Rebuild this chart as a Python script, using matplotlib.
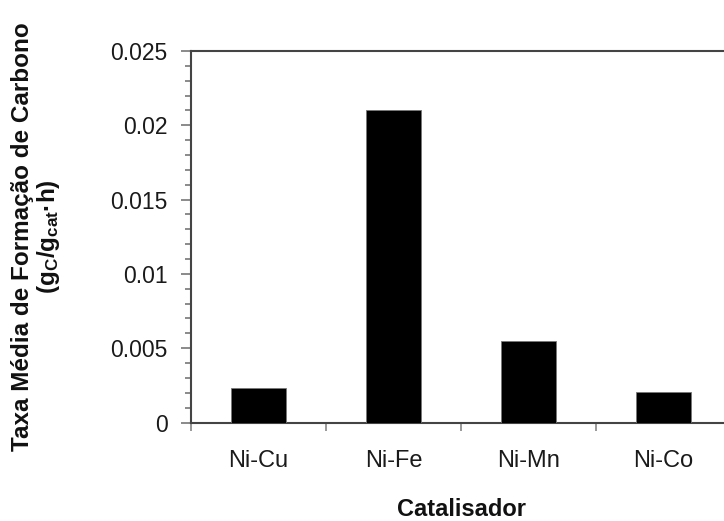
import matplotlib
matplotlib.use("Agg")
import matplotlib.pyplot as plt
from matplotlib.ticker import MultipleLocator, FixedLocator

categories = ["Ni-Cu", "Ni-Fe", "Ni-Mn", "Ni-Co"]
values = [0.0023, 0.021, 0.0055, 0.00205]
yticks = [0, 0.005, 0.01, 0.015, 0.02, 0.025]
ytick_labels = ["0", "0.005", "0.01", "0.015", "0.02", "0.025"]

plt.rcParams['font.family'] = ['Liberation Sans', 'DejaVu Sans']
plt.rcParams['mathtext.fontset'] = 'custom'
plt.rcParams['mathtext.rm'] = 'Liberation Sans:bold'
plt.rcParams['mathtext.default'] = 'rm'

W, H = 724, 521
fig = plt.figure(figsize=(W / 100, H / 100), dpi=100)
left, right, bottom, top = 191, 731, 422.5, 51
ax = fig.add_axes([left / W, 1 - bottom / H, (right - left) / W, (bottom - top) / H])

x = list(range(len(categories)))
ax.bar(x, values, width=0.41, color='black', edgecolor='#777777', linewidth=0.6, zorder=3)

ax.set_xlim(-0.5, len(categories) - 0.5)
ax.set_ylim(0, 0.025)

spine_col = '#444444'
for s in ['left', 'bottom', 'top']:
    ax.spines[s].set_color(spine_col)
    ax.spines[s].set_linewidth(1.5)
ax.spines['right'].set_visible(False)

ax.set_yticks(yticks)
ax.set_yticklabels(ytick_labels)
ax.yaxis.set_minor_locator(MultipleLocator(0.001))
ax.tick_params(axis='y', which='major', length=7, width=1.2, color='#777777',
               labelsize=16.5, labelcolor='#1a1a1a', pad=10)
ax.tick_params(axis='y', which='minor', length=4.5, width=1.2, color='#777777')

boundaries = [i - 0.5 for i in range(len(categories) + 1)]
ax.xaxis.set_major_locator(FixedLocator(boundaries))
ax.xaxis.set_minor_locator(FixedLocator(x))
ax.set_xticklabels([''] * len(boundaries))
ax.set_xticklabels(categories, minor=True)
ax.tick_params(axis='x', which='major', length=6, width=1.2, color='#888888')
ax.tick_params(axis='x', which='minor', length=0, labelsize=17, labelcolor='#1a1a1a', pad=20)

fig.text(461 / W, 1 - 516 / H, "Catalisador", ha='center', va='baseline',
         fontsize=17, fontweight='bold', color='#111111')

fig.text(37 / W, 1 - 237 / H,
         "Taxa Média de Formação de Carbono\n(g$_{C}$/g$_{cat}$·h)",
         rotation=90, ha='center', va='center', ma='center', fontsize=17.5,
         fontweight='bold', color='#111111', linespacing=1.05)

fig.savefig("out.png", dpi=100)
